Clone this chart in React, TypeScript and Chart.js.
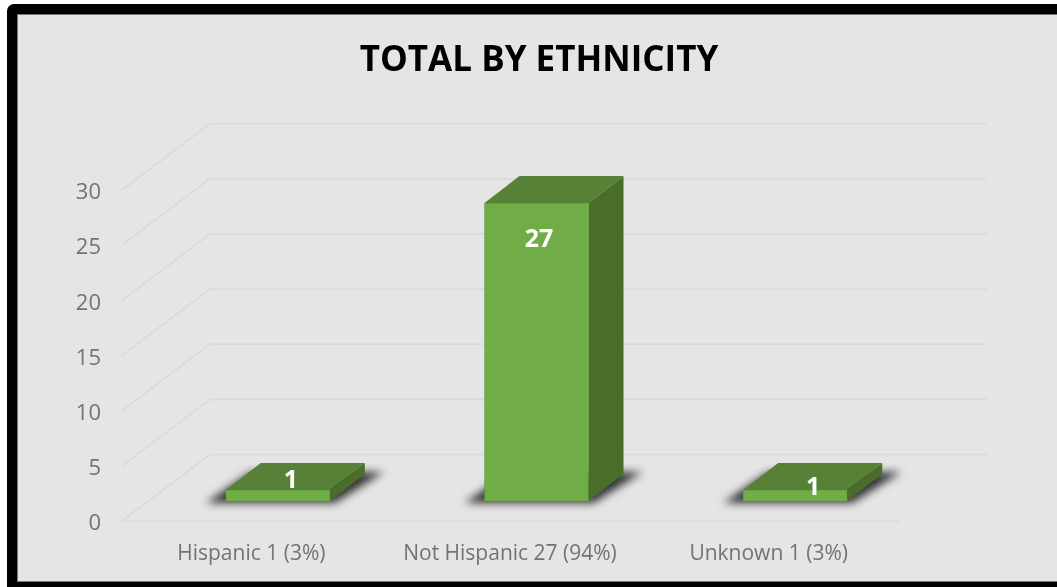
import React, { useEffect, useRef } from "react";
import { Chart, registerables } from "chart.js";

Chart.register(...registerables);

const chartTitle = "TOTAL BY ETHNICITY";
const categories = ["Hispanic 1 (3%)", "Not Hispanic 27 (94%)", "Unknown 1 (3%)"];
const totals = [1, 27, 1];
const yTicks = [0, 5, 10, 15, 20, 25, 30];

const FONT = '"Open Sans", sans-serif';

const depthPlugin = {
  id: "depth3d",
  beforeDatasetsDraw(chart: any) {
    const { ctx, scales, chartArea } = chart;
    const y = scales.y;
    const backDx = 88;
    const backDy = -66.5;
    const backRight = chartArea.right + 89;

    ctx.save();
    ctx.strokeStyle = "#dadada";
    ctx.lineWidth = 1.6;
    yTicks.forEach((t) => {
      const py = y.getPixelForValue(t);
      ctx.beginPath();
      ctx.moveTo(chartArea.left, py);
      ctx.lineTo(chartArea.left + backDx, py + backDy);
      ctx.lineTo(backRight, py + backDy);
      ctx.stroke();
    });
    ctx.beginPath();
    ctx.moveTo(chartArea.left, y.getPixelForValue(0));
    ctx.lineTo(chartArea.right + 1, y.getPixelForValue(0));
    ctx.stroke();
    ctx.restore();

    // the bars stand halfway into the depth of the floor
    ctx.save();
    ctx.translate(26.5, -20);

    const bars = chart.getDatasetMeta(0).data;
    const dx = 35;
    const dy = -27;
    const poly = (pts: number[][], fill: string) => {
      ctx.beginPath();
      pts.forEach((p, i) => (i ? ctx.lineTo(p[0], p[1]) : ctx.moveTo(p[0], p[1])));
      ctx.closePath();
      ctx.fillStyle = fill;
      ctx.fill();
    };

    bars.forEach((el: any) => {
      const x0 = el.x - el.width / 2;
      const x1 = el.x + el.width / 2;
      const b = el.base;
      ctx.save();
      ctx.filter = "blur(4px)";
      poly(
        [
          [x0 - 20, b + 2],
          [x1 + 5, b + 2],
          [x1 + 54, b - 29],
          [x0 + 25, b - 29],
        ],
        "#333333"
      );
      ctx.restore();
    });

    bars.forEach((el: any) => {
      const x0 = el.x - el.width / 2;
      const x1 = el.x + el.width / 2;
      const top = el.y;
      const b = el.base;
      poly(
        [
          [x0, top],
          [x1, top],
          [x1 + dx, top + dy],
          [x0 + dx, top + dy],
        ],
        "#578136"
      );
      poly(
        [
          [x1, top],
          [x1 + dx, top + dy],
          [x1 + dx, b + dy],
          [x1, b],
        ],
        "#4a6e2a"
      );
    });
  },
  afterDatasetsDraw(chart: any) {
    const { ctx } = chart;
    const nudges = [
      [13, -9],
      [2.5, 37],
      [18, -2],
    ];
    ctx.save();
    ctx.fillStyle = "#ffffff";
    ctx.font = `bold 25px ${FONT}`;
    ctx.textAlign = "center";
    ctx.textBaseline = "middle";
    chart.getDatasetMeta(0).data.forEach((el: any, i: number) => {
      ctx.fillText(String(totals[i]), el.x + nudges[i][0], el.y + nudges[i][1]);
    });
    ctx.restore();
    ctx.restore();
  },
};

export default function App() {
  const ref = useRef<HTMLCanvasElement>(null);

  useEffect(() => {
    document.body.style.margin = "0";
    document.body.style.overflow = "hidden";
    document.body.style.background = "#ffffff";
    const chart = new Chart(ref.current as HTMLCanvasElement, {
      type: "bar",
      data: {
        labels: categories,
        datasets: [
          {
            data: totals,
            backgroundColor: "#70ad47",
            borderColor: "#64a03e",
            borderWidth: 1,
            barThickness: 104,
            clip: false,
          } as any,
        ],
      },
      options: {
        responsive: false,
        animation: false,
        devicePixelRatio: 1,
        layout: { padding: { left: 3, right: 0, top: 0, bottom: 0 } },
        plugins: {
          legend: { display: false },
          tooltip: { enabled: false },
          title: {
            display: true,
            text: chartTitle,
            color: "#000000",
            font: { family: FONT, size: 35, weight: "bold", lineHeight: 1.2 },
            padding: { top: 25, bottom: 108 },
          },
        },
        scales: {
          x: {
            grid: { display: false },
            border: { display: false },
            ticks: {
              color: "#737373",
              font: { family: FONT, size: 21 },
              padding: 12,
              maxRotation: 0,
              autoSkip: false,
            },
            afterFit: (s: any) => {
              s.height = 60;
            },
          },
          y: {
            min: 0,
            max: 30,
            grid: { display: false },
            border: { display: false },
            ticks: {
              stepSize: 5,
              color: "#737373",
              font: { family: FONT, size: 22 },
              padding: 13,
            },
            afterFit: (s: any) => {
              s.width = 101;
              const drawLabels = s.drawLabels;
              if (!s._shifted) {
                s._shifted = true;
                s.drawLabels = function (area: any) {
                  s.ctx.save();
                  s.ctx.translate(0, 3);
                  drawLabels.call(s, area);
                  s.ctx.restore();
                };
              }
            },
          },
          side: {
            position: "right",
            grid: { display: false },
            border: { display: false },
            ticks: { display: false },
            afterFit: (s: any) => {
              s.width = 159;
            },
          },
        },
      },
      plugins: [depthPlugin],
    } as any);
    return () => chart.destroy();
  }, []);

  return (
    <div
      style={{
        position: "absolute",
        left: 7,
        top: 4,
        width: 1050,
        height: 583,
        background: "#000000",
        borderTopLeftRadius: 7,
        overflow: "hidden",
      }}
    >
      <div
        style={{
          position: "absolute",
          left: 11,
          top: 11,
          width: 1039,
          height: 566,
          background: "#e5e5e5",
          boxShadow: "0 0 0 1px #777777",
        }}
      >
        <canvas ref={ref} width={1039} height={566} style={{ display: "block" }} />
      </div>
    </div>
  );
}
